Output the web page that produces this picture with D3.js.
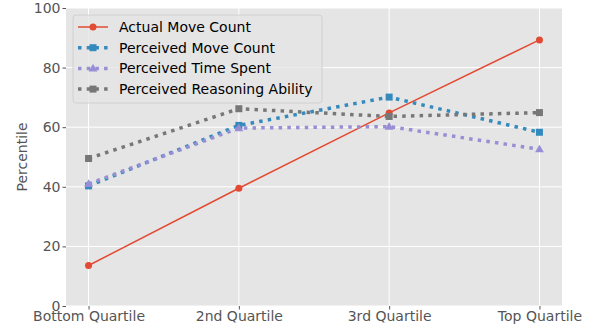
<!DOCTYPE html>
<html>
<head>
<meta charset="utf-8">
<script src="https://cdn.jsdelivr.net/npm/d3@7"></script>
<style>
  body { margin: 0; background: #fff; }
  svg { display: block; font-family: "DejaVu Sans", sans-serif; }
</style>
</head>
<body>
<div id="chart-area"></div>
<script>
const quartiles = ["Bottom Quartile", "2nd Quartile", "3rd Quartile", "Top Quartile"];
const actualMoveCount = [13.6, 39.5, 64.8, 89.3];
const perceivedMoveCount = [40.3, 60.6, 70.1, 58.3];
const perceivedTimeSpent = [41.0, 59.7, 60.2, 52.6];
const perceivedReasoning = [49.5, 66.2, 63.6, 64.9];
const yTicks = [0, 20, 40, 60, 80, 100];

const series = [
    {name: "Actual Move Count", values: actualMoveCount, color: "#E24A33", marker: "circle", dotted: false},
    {name: "Perceived Move Count", values: perceivedMoveCount, color: "#348ABD", marker: "square", dotted: true},
    {name: "Perceived Time Spent", values: perceivedTimeSpent, color: "#988ED5", marker: "triangle", dotted: true},
    {name: "Perceived Reasoning Ability", values: perceivedReasoning, color: "#777777", marker: "square", dotted: true}
];

const margin = {top: 8, right: 30, bottom: 24, left: 66};
const width = 562 - margin.left;
const height = 306 - margin.top;

const svg = d3.select("#chart-area")
    .append("svg")
    .attr("width", 592)
    .attr("height", 330);

const g = svg.append("g")
    .attr("transform", `translate(${margin.left}, ${margin.top})`);

const xScale = d3.scaleLinear()
    .domain([-0.15, quartiles.length - 1 + 0.15])
    .range([0, width]);

const yScale = d3.scaleLinear()
    .domain([0, 100])
    .range([height, 0]);

g.append("rect")
    .attr("width", width)
    .attr("height", height)
    .attr("fill", "#E5E5E5");

// grid
g.append("g")
    .selectAll("line")
    .data(yTicks)
    .join("line")
    .attr("x1", 0)
    .attr("x2", width)
    .attr("y1", d => yScale(d))
    .attr("y2", d => yScale(d))
    .attr("stroke", "#fff")
    .attr("stroke-width", 1);

g.append("g")
    .selectAll("line")
    .data(quartiles)
    .join("line")
    .attr("x1", (d, i) => xScale(i))
    .attr("x2", (d, i) => xScale(i))
    .attr("y1", 0)
    .attr("y2", height)
    .attr("stroke", "#fff")
    .attr("stroke-width", 1);

const xAxis = d3.axisBottom(xScale)
    .tickValues(d3.range(quartiles.length))
    .tickFormat(i => quartiles[i])
    .tickSize(3.5)
    .tickPadding(2);
const yAxis = d3.axisLeft(yScale)
    .tickValues(yTicks)
    .tickSize(3.5)
    .tickPadding(2);

g.append("g")
    .attr("class", "x-axis")
    .attr("transform", `translate(0, ${height})`)
    .call(xAxis);

g.append("g")
    .attr("class", "y-axis")
    .call(yAxis);

g.selectAll(".x-axis .domain, .y-axis .domain").remove();
g.selectAll(".x-axis line, .y-axis line").attr("stroke", "#555555");
g.selectAll(".x-axis text, .y-axis text")
    .attr("fill", "#555555")
    .style("font-size", "14px")
    .style("font-family", "DejaVu Sans");

g.append("text")
    .attr("x", -height / 2)
    .attr("y", -39)
    .attr("transform", "rotate(-90)")
    .attr("text-anchor", "middle")
    .attr("fill", "#555555")
    .style("font-size", "14px")
    .text("Percentile");

const line = d3.line()
    .x((d, i) => xScale(i))
    .y(d => yScale(d));

function drawMarker(sel, s, x, y) {
    if (s.marker === "circle") {
        sel.append("circle").attr("cx", x).attr("cy", y).attr("r", 3.5).attr("fill", s.color);
    } else if (s.marker === "square") {
        sel.append("rect").attr("x", x - 3.5).attr("y", y - 3.5).attr("width", 7).attr("height", 7).attr("fill", s.color);
    } else {
        const sym = d3.symbol().type(d3.symbolTriangle).size(34);
        sel.append("path").attr("transform", `translate(${x}, ${y + 0.5})`).attr("d", sym()).attr("fill", s.color);
    }
}

series.forEach(s => {
    const sg = g.append("g");
    sg.append("path")
        .datum(s.values)
        .attr("d", line)
        .attr("fill", "none")
        .attr("stroke", s.color)
        .attr("stroke-width", s.dotted ? 3.5 : 1.5)
        .attr("stroke-dasharray", s.dotted ? "3.5,5.2" : null);
    s.values.forEach((v, i) => drawMarker(sg, s, xScale(i), yScale(v)));
});

// legend
const legend = g.append("g")
    .attr("transform", "translate(7, 7)");

legend.append("rect")
    .attr("width", 249)
    .attr("height", 88)
    .attr("rx", 3)
    .attr("fill", "#E5E5E5")
    .attr("fill-opacity", 0.8)
    .attr("stroke", "#CCCCCC")
    .attr("stroke-width", 0.8);

series.forEach((s, i) => {
    const y = 12 + i * 20.7;
    const row = legend.append("g");
    row.append("line")
        .attr("x1", 5)
        .attr("x2", 35)
        .attr("y1", y)
        .attr("y2", y)
        .attr("stroke", s.color)
        .attr("stroke-width", s.dotted ? 3.5 : 1.5)
        .attr("stroke-dasharray", s.dotted ? "3.5,5.2" : null);
    drawMarker(row, s, 20, y);
    row.append("text")
        .attr("x", 46)
        .attr("y", y)
        .attr("dy", "0.35em")
        .attr("fill", "#000")
        .style("font-size", "14px")
        .text(s.name);
});
</script>
</body>
</html>
